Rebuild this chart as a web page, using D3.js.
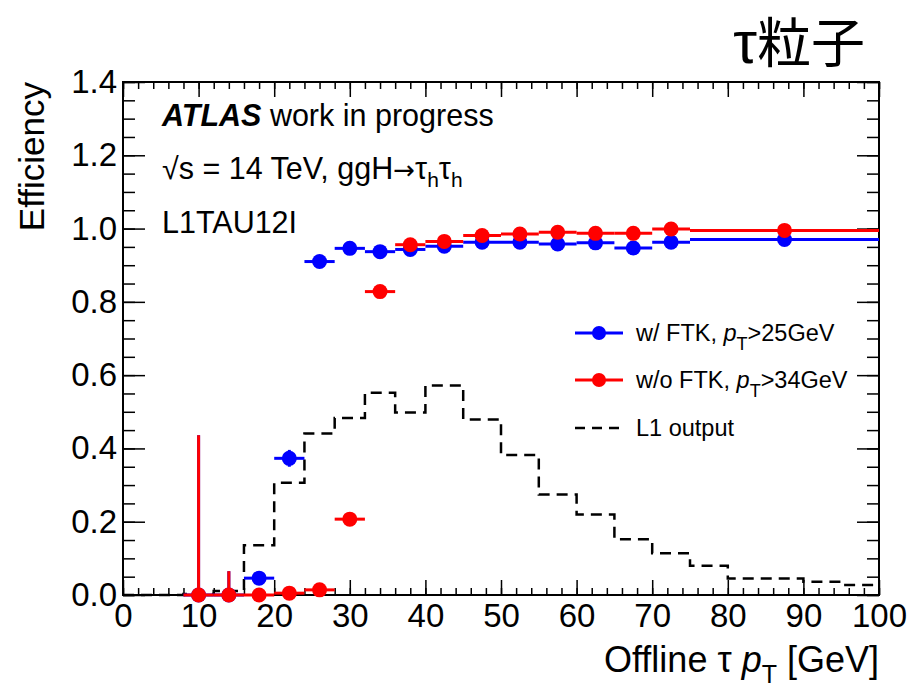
<!DOCTYPE html>
<html>
<head>
<meta charset="utf-8">
<script src="https://cdn.jsdelivr.net/npm/d3@7"></script>
<style>
  body { margin: 0; background: #fff; }
  text { font-family: "Liberation Sans", Arial, sans-serif; fill: #000; }
</style>
</head>
<body>
<div id="plot"></div>
<script>
// bin edges for the efficiency points
const effEdges = [8, 12, 16, 20, 24, 28, 32, 36, 40, 45, 50, 55, 60, 65, 70, 75, 100];

// w/ FTK, pT>25GeV
const ftkEff   = [0, 0, 0.046, 0.373, 0.910, 0.946, 0.937, 0.943, 0.952, 0.963, 0.963, 0.958, 0.961, 0.947, 0.963, 0.970];
const ftkErrUp = [0.436, 0.065, 0.012, 0.023, 0.008, 0.006, 0.006, 0.005, 0.004, 0.004, 0.004, 0.004, 0.004, 0.005, 0.004, 0.003];
const ftkErrDn = [0, 0, 0.012, 0.023, 0.008, 0.006, 0.006, 0.005, 0.004, 0.004, 0.004, 0.004, 0.004, 0.005, 0.004, 0.003];

// w/o FTK, pT>34GeV
const noFtkEff   = [0, 0, 0, 0.005, 0.014, 0.207, 0.828, 0.956, 0.965, 0.981, 0.985, 0.990, 0.987, 0.987, 0.999, 0.995];
const noFtkErrUp = [0.436, 0.065, 0.004, 0.004, 0.006, 0.012, 0.008, 0.005, 0.004, 0.003, 0.003, 0.003, 0.003, 0.003, 0.002, 0.002];
const noFtkErrDn = [0, 0, 0, 0.004, 0.006, 0.012, 0.008, 0.005, 0.004, 0.003, 0.003, 0.003, 0.003, 0.003, 0.002, 0.002];

// L1 output histogram
const l1Edges  = [0, 8, 12, 16, 20, 24, 28, 32, 36, 40, 45, 50, 55, 60, 65, 70, 75, 80, 90, 95, 100];
const l1Values = [0, 0.003, 0.011, 0.136, 0.306, 0.441, 0.483, 0.552, 0.498, 0.572, 0.479, 0.382, 0.274, 0.220, 0.152, 0.114, 0.080, 0.045, 0.036, 0.027];

const xTicks = [0, 10, 20, 30, 40, 50, 60, 70, 80, 90, 100];
const yTicks = [0, 0.2, 0.4, 0.6, 0.8, 1.0, 1.2, 1.4];

const width = 908;
const height = 691;
const margin = { left: 123, right: 29, top: 82, bottom: 96 };

const svg = d3.select('#plot')
  .append('svg')
  .attr('width', width)
  .attr('height', height);

const x = d3.scaleLinear()
  .domain([0, 100])
  .range([margin.left, width - margin.right]);

const y = d3.scaleLinear()
  .domain([0, 1.4])
  .range([height - margin.bottom, margin.top]);

const x0 = x(0), x1 = x(100), y0 = y(0), y1 = y(1.4);

// Axes (ROOT style: ticks pointing inside, mirrored on top/right)
function styleAxis(g) {
  g.select('.domain').remove();
  g.selectAll('line').attr('stroke', '#000').attr('stroke-width', 1.5);
  g.selectAll('text').style('font-size', '33px').attr('fill', '#000');
}

const minorX = d3.range(0, 101, 2);
const minorY = d3.range(0, 1.4001, 0.05);

svg.append('g')
  .attr('transform', `translate(0,${y0})`)
  .call(d3.axisBottom(x).tickValues(minorX).tickSize(-7).tickFormat(''))
  .call(styleAxis);
svg.append('g')
  .attr('transform', `translate(0,${y0})`)
  .call(d3.axisBottom(x).tickValues(xTicks).tickSize(-15).tickPadding(9).tickFormat(d3.format('d')))
  .call(styleAxis);
svg.append('g')
  .attr('transform', `translate(0,${y1})`)
  .call(d3.axisTop(x).tickValues(minorX).tickSize(-7).tickFormat(''))
  .call(styleAxis);
svg.append('g')
  .attr('transform', `translate(0,${y1})`)
  .call(d3.axisTop(x).tickValues(xTicks).tickSize(-15).tickFormat(''))
  .call(styleAxis);

svg.append('g')
  .attr('transform', `translate(${x0},0)`)
  .call(d3.axisLeft(y).tickValues(minorY).tickSize(-12).tickFormat(''))
  .call(styleAxis);
svg.append('g')
  .attr('transform', `translate(${x0},0)`)
  .call(d3.axisLeft(y).tickValues(yTicks).tickSize(-22).tickPadding(6).tickFormat(d3.format('.1f')))
  .call(styleAxis);
svg.append('g')
  .attr('transform', `translate(${x1},0)`)
  .call(d3.axisRight(y).tickValues(minorY).tickSize(-12).tickFormat(''))
  .call(styleAxis);
svg.append('g')
  .attr('transform', `translate(${x1},0)`)
  .call(d3.axisRight(y).tickValues(yTicks).tickSize(-22).tickFormat(''))
  .call(styleAxis);

// frame
svg.append('rect')
  .attr('x', x0).attr('y', y1)
  .attr('width', x1 - x0).attr('height', y0 - y1)
  .attr('fill', 'none')
  .attr('stroke', '#000')
  .attr('stroke-width', 2);

// L1 output histogram
const l1Points = l1Values.map((v, i) => [l1Edges[i], v]);
l1Points.push([l1Edges[l1Edges.length - 1], l1Values[l1Values.length - 1]]);

svg.append('path')
  .datum(l1Points)
  .attr('d', d3.line().x(d => x(d[0])).y(d => y(d[1])).curve(d3.curveStepAfter))
  .attr('fill', 'none')
  .attr('stroke', '#000')
  .attr('stroke-width', 2.5)
  .attr('stroke-dasharray', '11,7');

// efficiency points
function drawSeries(values, errUp, errDn, colour) {
  const data = values.map((v, i) => ({
    lo: effEdges[i],
    hi: effEdges[i + 1],
    c: (effEdges[i] + effEdges[i + 1]) / 2,
    v: v,
    up: errUp[i],
    dn: errDn[i]
  }));
  const g = svg.append('g');
  g.selectAll('line.h')
    .data(data)
    .enter()
    .append('line')
    .attr('x1', d => x(d.lo))
    .attr('x2', d => x(d.hi))
    .attr('y1', d => y(d.v))
    .attr('y2', d => y(d.v))
    .attr('stroke', colour)
    .attr('stroke-width', 3);
  g.selectAll('line.v')
    .data(data)
    .enter()
    .append('line')
    .attr('x1', d => x(d.c))
    .attr('x2', d => x(d.c))
    .attr('y1', d => y(Math.max(0, d.v - d.dn)))
    .attr('y2', d => y(d.v + d.up))
    .attr('stroke', colour)
    .attr('stroke-width', 3);
  g.selectAll('circle')
    .data(data)
    .enter()
    .append('circle')
    .attr('cx', d => x(d.c))
    .attr('cy', d => y(d.v))
    .attr('r', 7.5)
    .attr('fill', colour);
}

drawSeries(ftkEff, ftkErrUp, ftkErrDn, '#0000ff');
drawSeries(noFtkEff, noFtkErrUp, noFtkErrDn, '#ff0000');

// text labels
const atlas = svg.append('text')
  .attr('x', 162)
  .attr('y', 126)
  .style('font-size', '30.5px');
atlas.append('tspan')
  .style('font-weight', 'bold')
  .style('font-style', 'italic')
  .text('ATLAS');
atlas.append('tspan').text(' work in progress');

const energy = svg.append('text')
  .attr('x', 162)
  .attr('y', 179)
  .style('font-size', '30.5px');
energy.append('tspan').text('√s = 14 TeV, ggH');
energy.append('tspan').style('font-family', '"DejaVu Sans", sans-serif').style('font-size', '26px').text('→');
energy.append('tspan').text('τ');
energy.append('tspan').attr('dy', 8).style('font-size', '21px').text('h');
energy.append('tspan').attr('dy', -8).text('τ');
energy.append('tspan').attr('dy', 8).style('font-size', '21px').text('h');

svg.append('text')
  .attr('x', 162)
  .attr('y', 233)
  .style('font-size', '30.5px')
  .text('L1TAU12I');

// legend
const legendItems = [
  { y: 333, colour: '#0000ff', label: 'w/ FTK, ', cut: '>25GeV', marker: true },
  { y: 380, colour: '#ff0000', label: 'w/o FTK, ', cut: '>34GeV', marker: true },
  { y: 428, colour: '#000', label: 'L1 output', cut: null, marker: false }
];

legendItems.forEach(d => {
  const line = svg.append('line')
    .attr('x1', 575).attr('x2', 623)
    .attr('y1', d.y).attr('y2', d.y)
    .attr('stroke', d.colour)
    .attr('stroke-width', d.marker ? 3 : 2.5);
  if (d.marker) {
    svg.append('circle')
      .attr('cx', 599).attr('cy', d.y).attr('r', 7)
      .attr('fill', d.colour);
  } else {
    line.attr('stroke-dasharray', '10,7');
  }
  const t = svg.append('text')
    .attr('x', 636)
    .attr('y', d.y + 8)
    .style('font-size', '23.5px');
  t.append('tspan').text(d.label);
  if (d.cut) {
    t.append('tspan').style('font-style', 'italic').text('p');
    t.append('tspan').attr('dy', 9).style('font-size', '18px').text('T');
    t.append('tspan').attr('dy', -9).text(d.cut);
  }
});

// axis titles
const xTitle = svg.append('text')
  .attr('x', x1)
  .attr('y', 672)
  .attr('text-anchor', 'end')
  .style('font-size', '36px');
xTitle.append('tspan').text('Offline τ ');
xTitle.append('tspan').style('font-style', 'italic').text('p');
xTitle.append('tspan').attr('dy', 11).style('font-size', '25px').text('T');
xTitle.append('tspan').attr('dy', -11).text(' [GeV]');

svg.append('text')
  .attr('transform', `translate(44,${y1}) rotate(-90)`)
  .attr('text-anchor', 'end')
  .style('font-size', '35px')
  .text('Efficiency');

// title
const title = svg.append('text')
  .attr('x', 865)
  .attr('y', 63)
  .attr('text-anchor', 'end')
  .style('font-size', '54px');
title.append('tspan').style('font-family', '"Liberation Sans", sans-serif').style('font-size', '60px').text('τ');
title.append('tspan').style('font-family', '"Noto Sans CJK JP", sans-serif').text('粒子');
</script>
</body>
</html>
